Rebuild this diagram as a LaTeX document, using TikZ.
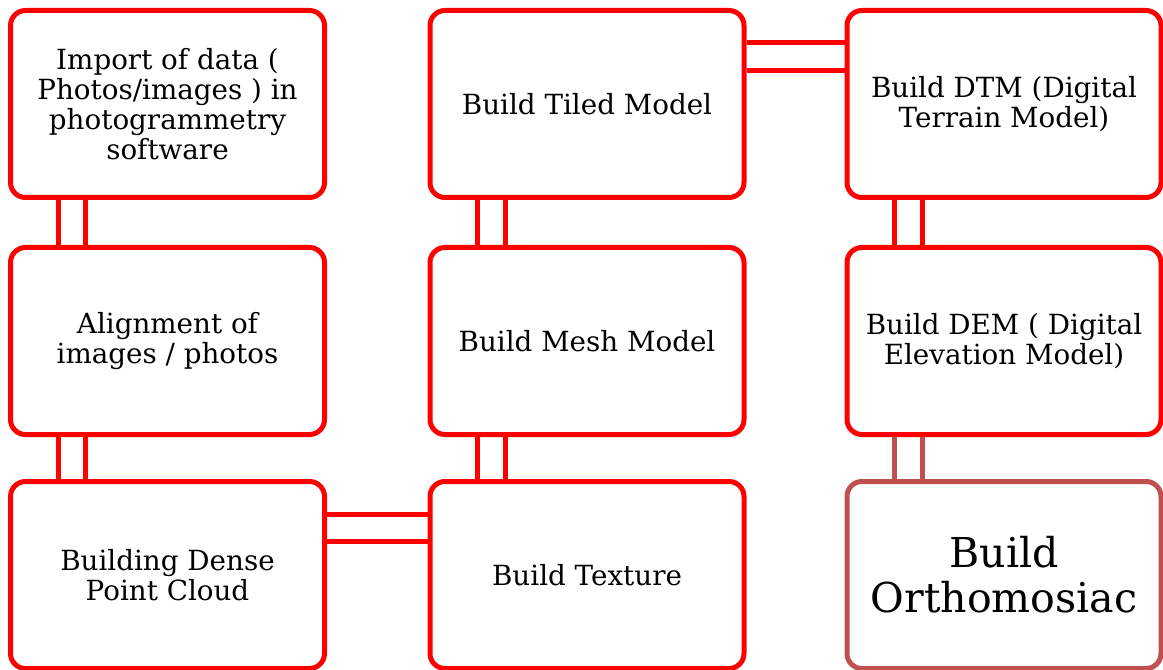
\documentclass[tikz,border=0pt]{standalone}
\usepackage{xcolor}
\usepackage{fontspec}
\setmainfont{DejaVu Serif}
\definecolor{boxred}{RGB}{255,0,0}
\definecolor{dullred}{RGB}{192,80,77}

\begin{document}
\begin{tikzpicture}[every node/.style={rectangle, draw=boxred, line width=0.1cm, rounded corners=0.3cm, minimum width=6.28cm, minimum height=3.74cm, align=center, font=\fontsize{15.8}{17}\selectfont}]
    \useasboundingbox (0,0) rectangle (23.26,-13.4);
    \node (A) at (3.35,-2.08) {Import of data (\\Photos/images ) in\\photogrammetry\\software};
    \node (B) at (3.35,-6.82) {Alignment of\\images / photos};
    \node (C) at (3.35,-11.5) {Building Dense\\Point Cloud};
    \node (D) at (11.74,-11.5) {Build Texture};
    \node (E) at (11.74,-6.82) {Build Mesh Model};
    \node (F) at (11.74,-2.08) {Build Tiled Model};
    \node (G) at (20.08,-2.08) {Build DTM (Digital\\Terrain Model)};
    \node (H) at (20.08,-6.82) {Build DEM ( Digital\\Elevation Model)};
    \node[draw=dullred, font=\fontsize{23.4}{25.6}\selectfont] (I) at (20.08,-11.5) {Build\\Orthomosiac};
    
    \draw[boxred, line width=0.1cm] ([xshift=1cm]A.south west) -- ([xshift=1cm]B.north west);
    \draw[boxred, line width=0.1cm] ([xshift=1.55cm]A.south west) -- ([xshift=1.55cm]B.north west);
    \draw[boxred, line width=0.1cm] ([xshift=1cm]B.south west) -- ([xshift=1cm]C.north west);
    \draw[boxred, line width=0.1cm] ([xshift=1.55cm]B.south west) -- ([xshift=1.55cm]C.north west);
    \draw[boxred, line width=0.1cm] ([yshift=-0.7cm]C.north east) -- ([yshift=-0.7cm]D.north west);
    \draw[boxred, line width=0.1cm] ([yshift=-1.25cm]C.north east) -- ([yshift=-1.25cm]D.north west);
    \draw[boxred, line width=0.1cm] ([xshift=1cm]D.north west) -- ([xshift=1cm]E.south west);
    \draw[boxred, line width=0.1cm] ([xshift=1.55cm]D.north west) -- ([xshift=1.55cm]E.south west);
    \draw[boxred, line width=0.1cm] ([xshift=1cm]E.north west) -- ([xshift=1cm]F.south west);
    \draw[boxred, line width=0.1cm] ([xshift=1.55cm]E.north west) -- ([xshift=1.55cm]F.south west);
    \draw[boxred, line width=0.1cm] ([yshift=-0.7cm]F.north east) -- ([yshift=-0.7cm]G.north west);
    \draw[boxred, line width=0.1cm] ([yshift=-1.25cm]F.north east) -- ([yshift=-1.25cm]G.north west);
    \draw[boxred, line width=0.1cm] ([xshift=1cm]G.south west) -- ([xshift=1cm]H.north west);
    \draw[boxred, line width=0.1cm] ([xshift=1.55cm]G.south west) -- ([xshift=1.55cm]H.north west);
    \draw[dullred, line width=0.1cm] ([xshift=1cm]H.south west) -- ([xshift=1cm]I.north west);
    \draw[dullred, line width=0.1cm] ([xshift=1.55cm]H.south west) -- ([xshift=1.55cm]I.north west);
\end{tikzpicture}
\end{document}
